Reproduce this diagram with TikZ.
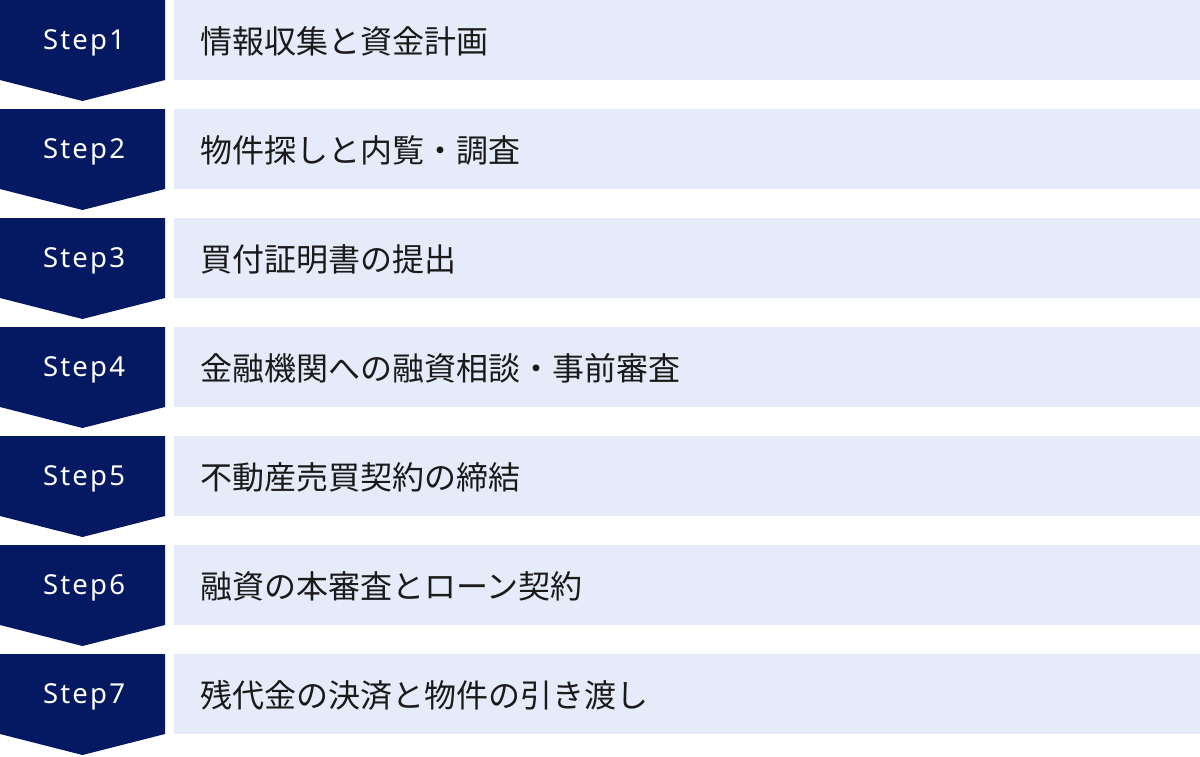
\documentclass[tikz,border=0pt]{standalone}
\usepackage{fontspec}
\setmainfont{Noto Sans}
\newfontfamily\jp{Noto Sans CJK JP}
\definecolor{navy}{HTML}{051962}
\definecolor{pale}{HTML}{E5EBF8}
\definecolor{ink}{HTML}{1A1A1A}
\begin{document}
\begin{tikzpicture}[x=1pt,y=-1pt,
  chev/.style={fill=navy,draw=none},
  bar/.style={fill=pale,draw=none},
  steplabel/.style={text=white,font=\fontsize{27.5}{30}\selectfont\addfontfeatures{LetterSpace=8},inner sep=0},
  desc/.style={text=ink,font=\jp\fontsize{32}{36}\selectfont,anchor=west,inner sep=0}]
\useasboundingbox (0,0) rectangle (1200,756);
\foreach \i/\t in {1/情報収集と資金計画,2/物件探しと内覧・調査,3/買付証明書の提出,4/金融機関への融資相談・事前審査,5/不動産売買契約の締結,6/融資の本審査とローン契約,7/残代金の決済と物件の引き渡し}{
  \pgfmathsetmacro{\y}{(\i-1)*109}
  \fill[chev] (0,\y) -- (165,\y) -- (165,\y+80) -- (82.5,\y+101) -- (0,\y+80) -- cycle;
  \fill[bar] (174,\y) rectangle (1200,\y+80);
  \node[steplabel] (s\i) at (84,\y+43) {Step\i};
  \node[desc] (d\i) at (200,\y+41) {\t};
}
\end{tikzpicture}
\end{document}
